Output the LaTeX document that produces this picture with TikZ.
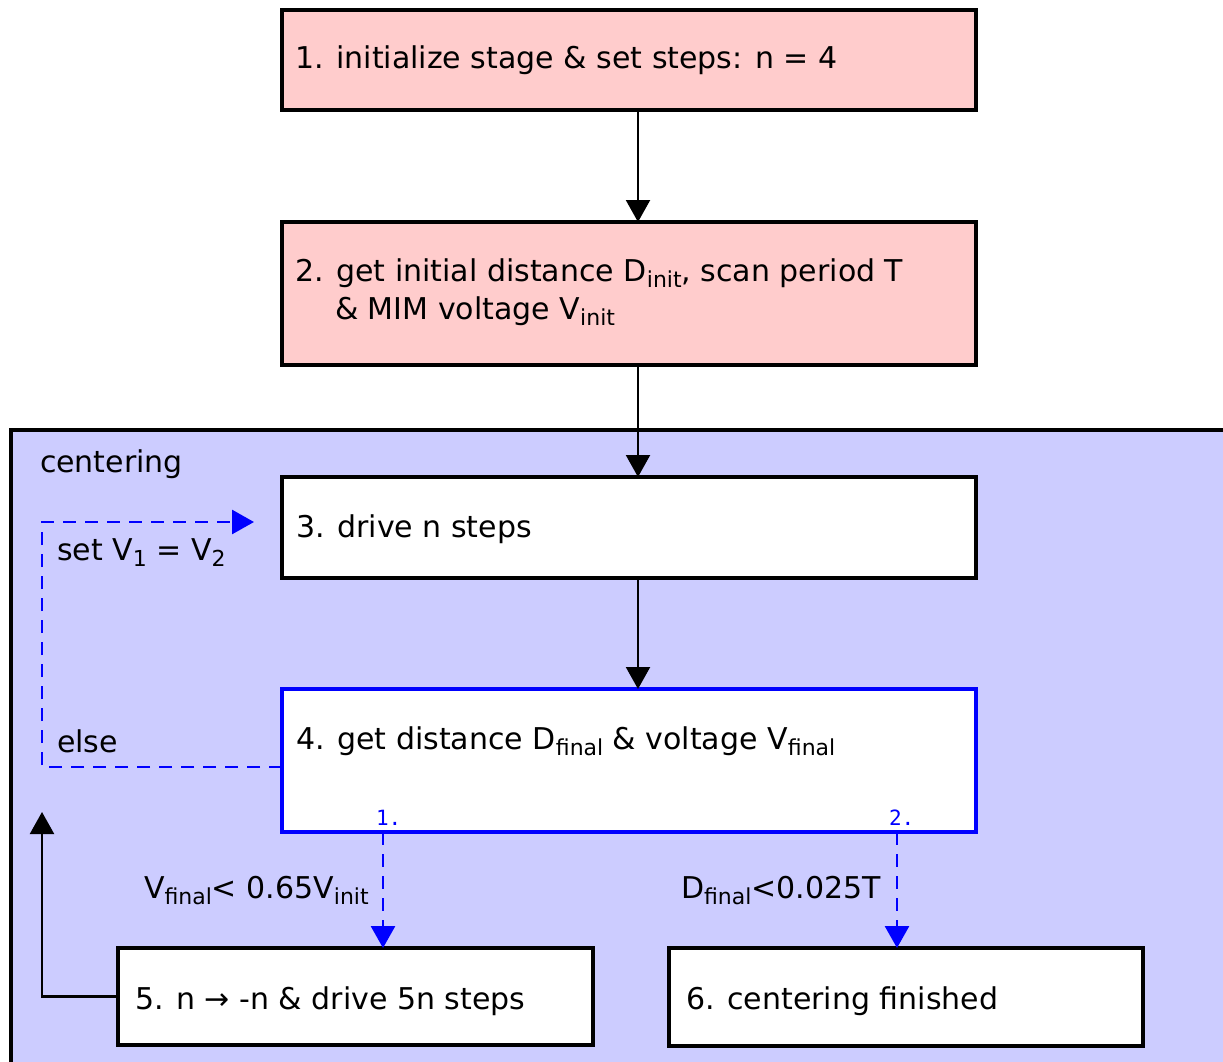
\documentclass[tikz,border=0pt]{standalone}
\usepackage{fontspec}
\setmainfont{DejaVu Sans}
\newfontfamily\monofont{DejaVu Sans Mono}
\usetikzlibrary{arrows.meta}
\definecolor{pinkfill}{HTML}{FFCCCC}
\definecolor{panelfill}{HTML}{CCCCFF}
\definecolor{flowblue}{HTML}{0000FF}
% lowered, smaller index text
\newcommand\lowidx[1]{\raisebox{-6pt}{\fontsize{22}{22}\selectfont #1}}

\begin{document}
\begin{tikzpicture}[x=1pt,y=-1pt,
  every node/.style={inner sep=0pt, outer sep=0pt},
  txt/.style={anchor=base west, font=\fontsize{30}{38}\selectfont},
  numtag/.style={anchor=base west, text=flowblue, font=\monofont\fontsize{21}{21}\selectfont},
  stepbox/.style={draw=black, line width=3.2pt, rectangle, fill=white},
  initbox/.style={stepbox, fill=pinkfill},
  flow/.style={draw=black, line width=2.2pt, -{Triangle[width=24pt,length=22pt]}},
  choice/.style={draw=flowblue, line width=2.8pt, dash pattern=on 13pt off 9pt,
                 -{Triangle[width=24pt,length=22pt]}}]

\useasboundingbox (0,0) rectangle (1223,1062);

% centering stage panel
\node[draw=black, line width=3.2pt, fill=panelfill, anchor=north west,
      minimum width=1240pt, minimum height=660pt] (panel) at (11,430) {};
\node[txt] (ptitle) at (40,472) {centering};

% process steps
\node[initbox, minimum width=694pt, minimum height=100pt] (b1) at (629,60) {};
\node[initbox, minimum width=694pt, minimum height=143pt] (b2) at (629,293.5) {};
\node[stepbox, minimum width=694pt, minimum height=101pt] (b3) at (629,527.5) {};
\node[stepbox, draw=flowblue, minimum width=694pt, minimum height=143pt] (b4) at (629,760.5) {};
\node[stepbox, minimum width=475pt, minimum height=97pt] (b5) at (355.5,996.5) {};
\node[stepbox, minimum width=474pt, minimum height=98pt] (b6) at (906,997) {};

\node[txt] (t1) at (295,69) {1. initialize stage \& set steps: n = 4};
\node[txt] (t2a) at (295,281) {2. get initial distance D\lowidx{init}, scan period T};
\node[txt] (t2b) at (335,319) {\& MIM voltage V\lowidx{init}};
\node[txt] (t3) at (296,537) {3. drive n steps};
\node[txt] (t4) at (296,749) {4. get distance D\lowidx{final} \& voltage V\lowidx{final}};
\node[txt] (t5) at (135,1009) {5. n → -n \& drive 5n steps};
\node[txt] (t6) at (686,1009) {6. centering finished};

% main sequence
\draw[flow] ([xshift=9pt]b1.south) -- ([xshift=9pt]b2.north);
\draw[flow] ([xshift=9pt]b2.south) -- ([xshift=9pt]b3.north);
\draw[flow] ([xshift=9pt]b3.south) -- ([xshift=9pt]b4.north);

% branches out of step 4
\node[numtag] (n1) at (376,825) {1.};
\node[numtag] (n2) at (889,825) {2.};
\draw[choice] (b4.south -| 383,0) -- (b5.north -| 383,0);
\draw[choice] (b4.south -| 897,0) -- (b6.north -| 897,0);
\node[txt] (c1) at (144,898) {V\lowidx{final}< 0.65V\lowidx{init}};
\node[txt] (c2) at (681,898) {D\lowidx{final}<0.025T};

% repeat loop
\draw[choice, shorten >=28pt] ([yshift=-6.5pt]b4.west) -| (42,522) -- (b3.west |- 0,522);
\node[txt] (lset) at (57,560) {set V\lowidx{1} = V\lowidx{2}};
\node[txt] (lelse) at (57,752) {else};

% return from step 5
\coordinate (ret) at (42,812);
\draw[flow] (b5.west) -| (ret);
\end{tikzpicture}
\end{document}
